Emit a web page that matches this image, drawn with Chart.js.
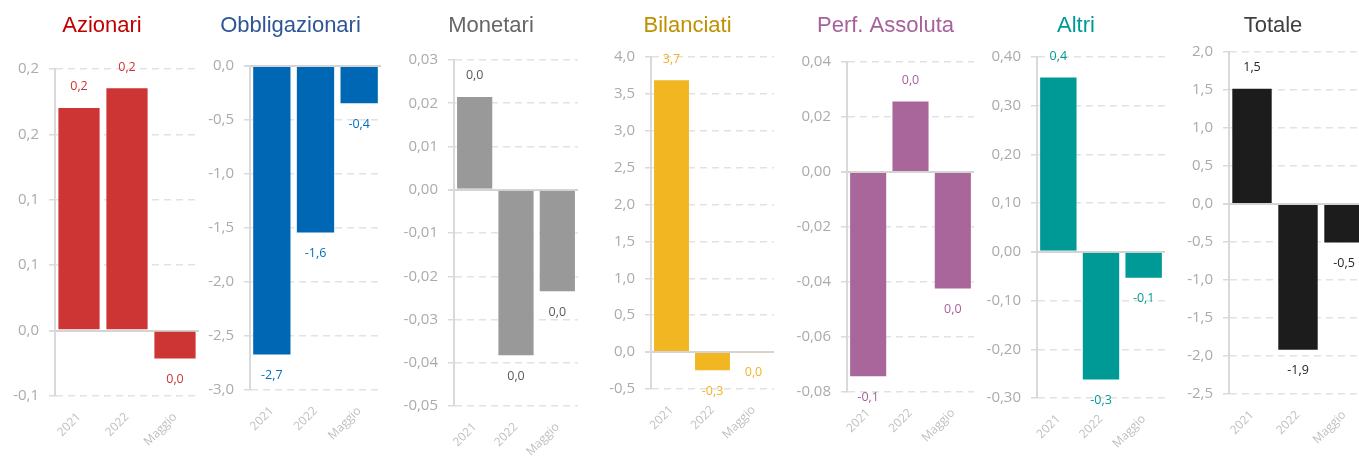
<!DOCTYPE html>
<html lang="it">
<head>
<meta charset="utf-8">
<title>Performance per categoria</title>
<script src="https://cdn.jsdelivr.net/npm/chart.js@4.4.1/dist/chart.umd.min.js"></script>
<style>
  html, body { margin: 0; padding: 0; background: #fff; overflow: hidden; }
  #wrap { position: relative; width: 1359px; height: 459px; overflow: hidden; }
  #wrap canvas { position: absolute; top: 0; }
</style>
</head>
<body>
<div id="wrap"></div>
<script>
const categories = ['2021', '2022', 'Maggio'];

// valori per categoria (2021, 2022, Maggio)
const azionari = [0.171, 0.186, -0.022];
const obbligazionari = [-2.68, -1.55, -0.355];
const monetari = [0.0217, -0.0385, -0.0237];
const bilanciati = [3.70, -0.26, -0.005];
const perfAssoluta = [-0.0746, 0.026, -0.0427];
const altri = [0.36, -0.264, -0.055];
const totale = [1.53, -1.93, -0.52];

// asse y: [min, max, passo]
const azionariTicks = [-0.05, 0.2, 0.05];
const obbligazionariTicks = [-3, 0, 0.5];
const monetariTicks = [-0.05, 0.03, 0.01];
const bilanciatiTicks = [-0.5, 4, 0.5];
const perfAssolutaTicks = [-0.08, 0.04, 0.02];
const altriTicks = [-0.3, 0.4, 0.1];
const totaleTicks = [-2.5, 2, 0.5];

const panels = [
  { title: 'Azionari', data: azionari, ticks: azionariTicks, dec: 1, bar: '#CD3434', lbl: '#CD3434', head: '#C00000', axisX: 55, right: 199, top: 69, bottom: 396 },
  { title: 'Obbligazionari', data: obbligazionari, ticks: obbligazionariTicks, dec: 1, bar: '#0067B4', lbl: '#0070C0', head: '#2F5597', axisX: 250, right: 381, top: 66, bottom: 390 },
  { title: 'Monetari', data: monetari, ticks: monetariTicks, dec: 2, bar: '#999999', lbl: '#595959', head: '#666666', axisX: 454, right: 578, top: 60, bottom: 406 },
  { title: 'Bilanciati', data: bilanciati, ticks: bilanciatiTicks, dec: 1, bar: '#F2B623', lbl: '#F2B323', head: '#BF9000', axisX: 651, right: 774, top: 57, bottom: 389 },
  { title: 'Perf. Assoluta', data: perfAssoluta, ticks: perfAssolutaTicks, dec: 2, bar: '#A9669B', lbl: '#A6619A', head: '#A6619A', axisX: 847, right: 974, top: 62, bottom: 392 },
  { title: 'Altri', data: altri, ticks: altriTicks, dec: 2, bar: '#009A96', lbl: '#009A96', head: '#009A96', axisX: 1037, right: 1165, top: 57, bottom: 398 },
  { title: 'Totale', data: totale, ticks: totaleTicks, dec: 1, bar: '#1C1C1C', lbl: '#262626', head: '#404040', axisX: 1229, right: 1367, top: 52, bottom: 394 }
];

const Y_AXIS_W = 50;
const TITLE_SIZE = 22;

// arrotondamento "alla Excel" (mezzo lontano da zero), senza "-0"
function fmt(v, d) {
  const f = Math.pow(10, d);
  let r = Math.sign(v) * Math.round(Math.abs(v) * f + 1e-9) / f;
  if (r === 0) r = 0;
  return r.toFixed(d).replace('.', ',');
}

const isZero = c => c.tick && Math.abs(c.tick.value) < 1e-9;

const valueLabels = {
  id: 'valueLabels',
  afterDatasetsDraw(chart, args, opts) {
    const { ctx } = chart;
    const meta = chart.getDatasetMeta(0);
    const values = chart.data.datasets[0].data;
    ctx.save();
    ctx.font = '12.5px "Open Sans", sans-serif';
    ctx.fillStyle = opts.color;
    ctx.textAlign = 'center';
    ctx.textBaseline = 'middle';
    meta.data.forEach((bar, i) => {
      const v = values[i];
      const y = v >= 0 ? bar.y - 20 : bar.y + 20;
      ctx.fillText(fmt(v, 1), bar.x, y);
    });
    ctx.restore();
  }
};

const wrap = document.getElementById('wrap');

panels.forEach(p => {
  const left = p.axisX - Y_AXIS_W;
  const xAxisH = 459 - p.bottom;
  const canvas = document.createElement('canvas');
  canvas.width = p.right - left;
  canvas.height = 459;
  canvas.style.left = left + 'px';
  wrap.appendChild(canvas);

  new Chart(canvas.getContext('2d'), {
    type: 'bar',
    data: {
      labels: categories,
      datasets: [{
        data: p.data,
        backgroundColor: p.bar,
        borderColor: 'rgba(255,255,255,0.4)',
        borderWidth: 1,
        barPercentage: 0.9,
        categoryPercentage: 1
      }]
    },
    options: {
      responsive: false,
      animation: false,
      layout: { padding: 0 },
      plugins: {
        legend: { display: false },
        tooltip: { enabled: false },
        title: {
          display: true,
          text: p.title,
          color: p.head,
          font: { family: '"Liberation Sans", Arial, sans-serif', size: TITLE_SIZE, weight: 'normal', lineHeight: 1.2 },
          padding: { top: 13, bottom: p.top - 13 - TITLE_SIZE * 1.2 }
        },
        valueLabels: { color: p.lbl }
      },
      scales: {
        x: {
          grid: { display: false },
          border: { display: false },
          ticks: {
            color: '#BFBFBF',
            font: { family: '"Open Sans", sans-serif', size: 12 },
            minRotation: 45,
            maxRotation: 45,
            padding: 6
          },
          afterFit: s => { s.height = xAxisH; }
        },
        y: {
          min: p.ticks[0],
          max: p.ticks[1],
          ticks: {
            stepSize: p.ticks[2],
            color: '#ABABAB',
            font: { family: '"Open Sans", sans-serif', size: 15 },
            padding: 10,
            callback: v => fmt(v, p.dec)
          },
          grid: {
            color: c => isZero(c) ? '#D4D4D4' : '#E2E2E2',
            lineWidth: c => isZero(c) ? 2 : 1.5,
            tickLength: 6,
            tickColor: '#DADADA'
          },
          border: {
            display: true,
            color: '#D9D9D9',
            width: 2,
            dash: c => isZero(c) ? [] : [7, 5]
          },
          afterFit: s => { s.width = Y_AXIS_W; }
        }
      }
    },
    plugins: [valueLabels]
  });
});
</script>
</body>
</html>
